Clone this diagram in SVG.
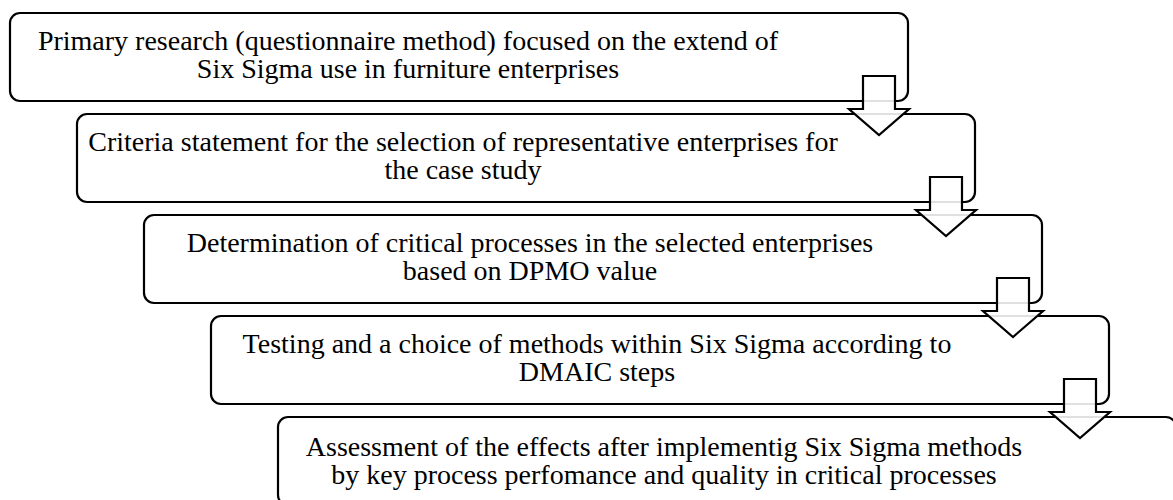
<svg xmlns="http://www.w3.org/2000/svg" width="1173" height="500" viewBox="0 0 1173 500">
<style>
.box{fill:#fff;stroke:#000;stroke-width:2.2}
.lbl{font-family:'Liberation Serif','Times New Roman',Times,serif;font-size:28px;fill:#000;text-anchor:middle}
.arr{fill:#fff;fill-opacity:0.88;stroke:#000;stroke-width:2.2;stroke-linejoin:miter}
</style>
<rect width="1173" height="500" fill="#fff"/>
<g id="node1">
<rect class="box" x="10" y="13" width="898" height="88" rx="10"/>
<text class="lbl" font-family="Liberation Serif, serif" x="408" y="50">Primary research (questionnaire method) focused on the extend of</text>
<text class="lbl" font-family="Liberation Serif, serif" x="408" y="78">Six Sigma use in furniture enterprises</text>
</g>
<g id="node2">
<rect class="box" x="77" y="114" width="898" height="88" rx="10"/>
<text class="lbl" font-family="Liberation Serif, serif" x="463" y="151">Criteria statement for the selection of representative enterprises for</text>
<text class="lbl" font-family="Liberation Serif, serif" x="463" y="179">the case study</text>
</g>
<g id="node3">
<rect class="box" x="144" y="215" width="898" height="88" rx="10"/>
<text class="lbl" font-family="Liberation Serif, serif" x="530" y="252">Determination of critical processes in the selected enterprises</text>
<text class="lbl" font-family="Liberation Serif, serif" x="530" y="280">based on DPMO value</text>
</g>
<g id="node4">
<rect class="box" x="211" y="316" width="898" height="88" rx="10"/>
<text class="lbl" font-family="Liberation Serif, serif" x="597" y="353">Testing and a choice of methods within Six Sigma according to</text>
<text class="lbl" font-family="Liberation Serif, serif" x="597" y="381">DMAIC steps</text>
</g>
<g id="node5">
<rect class="box" x="278" y="417" width="898" height="88" rx="10"/>
<text class="lbl" font-family="Liberation Serif, serif" x="664" y="456">Assessment of the effects after implementig Six Sigma methods</text>
<text class="lbl" font-family="Liberation Serif, serif" x="664" y="484">by key process perfomance and quality in critical processes</text>
</g>
<g id="connectors">
<path class="arr" d="M863,76 H895 V109 H909 L879,135 L849,109 H863 Z"/>
<path class="arr" d="M930,177 H962 V210 H976 L946,236 L916,210 H930 Z"/>
<path class="arr" d="M997,278 H1029 V311 H1043 L1013,337 L983,311 H997 Z"/>
<path class="arr" d="M1064,379 H1096 V412 H1110 L1080,438 L1050,412 H1064 Z"/>
</g>
</svg>
